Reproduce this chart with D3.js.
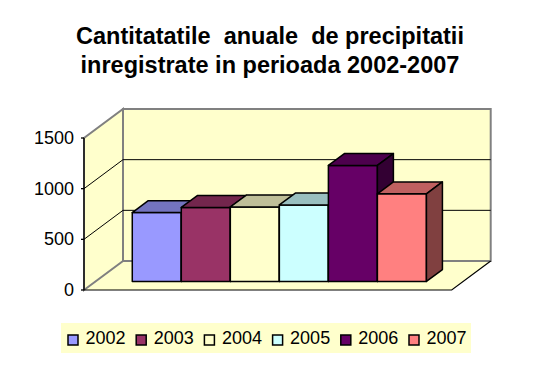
<!DOCTYPE html>
<html>
<head>
<meta charset="utf-8">
<script src="https://cdn.jsdelivr.net/npm/d3@7"></script>
<style>
  body { margin: 0; background: #fff; }
  svg { display: block; font-family: "Liberation Sans", Arial, sans-serif; }
</style>
</head>
<body>
<div id="chart"></div>
<script>
// data
const years = ["2002", "2003", "2004", "2005", "2006", "2007"];
const values = [680, 730, 735, 755, 1145, 865];
const colors = ["#9999FF", "#993366", "#FFFFCC", "#CCFFFF", "#660066", "#FF8080"];
const yTicks = [0, 500, 1000, 1500];
const titleLines = ["Cantitatatile  anuale  de precipitatii", "inregistrate in perioada 2002-2007"];

const width = 536, height = 365;
const ox = 84, oy = 290;          // front-left corner of the floor
const plotW = 367.7, plotH = 152; // front plane size
const ddx = 39, ddy = 29;         // depth offset of back wall
const f0 = 0.295, f1 = 0.705;     // depth of bars (fraction)

const svg = d3.select("#chart").append("svg")
  .attr("width", width)
  .attr("height", height);

const y = d3.scaleLinear().domain([0, 1500]).range([0, plotH]);
const x = d3.scaleBand().domain(years).range([0, plotW]).paddingInner(0).paddingOuter(0.75);

// project (x offset, value, depth) to screen
function P(px, v, f) {
  return [ox + px + ddx * f, oy - y(v) - ddy * f];
}
const pts = arr => arr.map(p => p.join(",")).join(" ");

function shade(c, k) {
  const r = d3.rgb(c);
  return d3.rgb(r.r * k, r.g * k, r.b * k).formatHex();
}

// title
svg.selectAll("text.title")
  .data(titleLines)
  .enter().append("text")
  .attr("class", "title")
  .attr("x", 270)
  .attr("y", (d, i) => 43.5 + i * 29.5)
  .attr("text-anchor", "middle")
  .attr("font-size", "23.5px")
  .attr("font-weight", "bold")
  .style("white-space", "pre")
  .attr("xml:space", "preserve")
  .text(d => d);

const wallFill = "#FFFFCC", wallStroke = "#808080";

// floor
svg.append("polygon")
  .attr("points", pts([P(0, 0, 0), P(plotW, 0, 0), P(plotW, 0, 1), P(0, 0, 1)]))
  .attr("fill", wallFill);

// back wall
svg.append("polygon")
  .attr("points", pts([P(0, 0, 1), P(plotW, 0, 1), P(plotW, 1500, 1), P(0, 1500, 1)]))
  .attr("fill", wallFill)
  .attr("stroke", wallStroke)
  .attr("stroke-width", 2);

// left wall
svg.append("polygon")
  .attr("points", pts([P(0, 0, 0), P(0, 0, 1), P(0, 1500, 1), P(0, 1500, 0)]))
  .attr("fill", wallFill)
  .attr("stroke", wallStroke)
  .attr("stroke-width", 2);

// gridlines
const grid = yTicks.filter(v => v > 0 && v < 1500);
grid.forEach(v => {
  const a = P(0, v, 0), b = P(0, v, 1), c = P(plotW, v, 1);
  svg.append("polyline")
    .attr("points", pts([a, b, c]))
    .attr("fill", "none")
    .attr("stroke", "#000")
    .attr("stroke-width", 1);
});

// floor front + right edges
svg.append("polyline")
  .attr("points", pts([P(0, 0, 0), P(plotW, 0, 0), P(plotW, 0, 1)]))
  .attr("fill", "none")
  .attr("stroke", "#000")
  .attr("stroke-width", 1.2);

// value axis
svg.append("line")
  .attr("x1", ox).attr("y1", oy)
  .attr("x2", ox).attr("y2", oy - plotH)
  .attr("stroke", "#000")
  .attr("stroke-width", 1.3);

svg.selectAll("line.tick")
  .data(yTicks)
  .enter().append("line")
  .attr("class", "tick")
  .attr("x1", ox - 3).attr("x2", ox)
  .attr("y1", d => oy - y(d)).attr("y2", d => oy - y(d))
  .attr("stroke", "#000")
  .attr("stroke-width", 1.3);

svg.selectAll("text.ylab")
  .data(yTicks)
  .enter().append("text")
  .attr("class", "ylab")
  .attr("x", 74)
  .attr("y", d => oy - y(d) + 6)
  .attr("text-anchor", "end")
  .attr("font-size", "18px")
  .text(d => d);

// bars
const bars = years.map((yr, i) => ({ year: yr, value: values[i], color: colors[i] }));
const bw = x.bandwidth();

const g = svg.selectAll("g.bar")
  .data(bars)
  .enter().append("g")
  .attr("class", "bar")
  .attr("stroke", "#000")
  .attr("stroke-width", 1.5)
  .attr("stroke-linejoin", "round");

g.append("polygon")
  .attr("points", d => {
    const x0 = x(d.year);
    return pts([P(x0, 0, f0), P(x0 + bw, 0, f0), P(x0 + bw, d.value, f0), P(x0, d.value, f0)]);
  })
  .attr("fill", d => d.color);

g.append("polygon")
  .attr("points", d => {
    const x0 = x(d.year);
    return pts([P(x0, d.value, f0), P(x0 + bw, d.value, f0), P(x0 + bw, d.value, f1), P(x0, d.value, f1)]);
  })
  .attr("fill", d => shade(d.color, 0.75));

g.append("polygon")
  .attr("points", d => {
    const x1 = x(d.year) + bw;
    return pts([P(x1, 0, f0), P(x1, 0, f1), P(x1, d.value, f1), P(x1, d.value, f0)]);
  })
  .attr("fill", d => shade(d.color, 0.5));

// legend
const legend = svg.append("g").attr("class", "legend");
legend.append("rect")
  .attr("x", 61).attr("y", 323)
  .attr("width", 410).attr("height", 30)
  .attr("fill", wallFill);

const item = legend.selectAll("g.item")
  .data(bars)
  .enter().append("g")
  .attr("class", "item")
  .attr("transform", (d, i) => `translate(${67.5 + i * 68.2},0)`);

item.append("rect")
  .attr("x", 0.5).attr("y", 335)
  .attr("width", 10).attr("height", 10)
  .attr("fill", d => d.color)
  .attr("stroke", "#000")
  .attr("stroke-width", 1.5);

item.append("text")
  .attr("x", 18)
  .attr("y", 344)
  .attr("font-size", "18px")
  .text(d => d.year);
</script>
</body>
</html>
